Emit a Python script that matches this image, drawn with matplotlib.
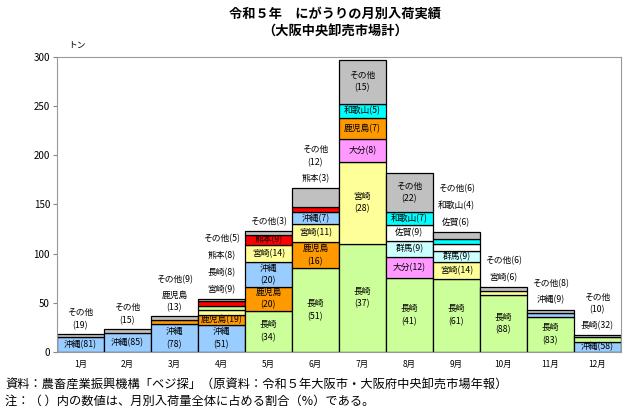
import matplotlib.pyplot as plt
import numpy as np

plt.rcParams['font.family'] = ['Noto Sans CJK JP', 'DejaVu Sans']

# 月
months = ['1月', '2月', '3月', '4月', '5月', '6月', '7月', '8月', '9月', '10月', '11月', '12月']

# 入荷量（トン）- 図から読み取り
okinawa   = [14.6, 19.5, 28.0, 27.5, 24.6, 11.7, 0, 0, 0, 0, 3.9, 9.9]
nagasaki  = [0, 0, 0, 4.3, 41.8, 85.0, 110.0, 74.6, 74.4, 58.0, 35.7, 5.4]
kagoshima = [0, 0, 4.7, 10.3, 24.6, 26.7, 20.8, 0, 0, 0, 0, 0]
miyazaki  = [0, 0, 0, 4.9, 17.2, 18.4, 83.0, 0, 17.1, 4.0, 0, 0]
kumamoto  = [0, 0, 0, 4.3, 11.1, 5.0, 0, 0, 0, 0, 0, 0]
oita      = [0, 0, 0, 0, 0, 0, 23.8, 21.8, 0, 0, 0, 0]
gunma     = [0, 0, 0, 0, 0, 0, 0, 16.4, 11.0, 0, 0, 0]
saga      = [0, 0, 0, 0, 0, 0, 0, 16.4, 7.3, 0, 0, 0]
wakayama  = [0, 0, 0, 0, 0, 0, 14.9, 12.7, 4.9, 0, 0, 0]
sonota    = [3.4, 3.5, 3.3, 2.7, 3.7, 20.0, 44.6, 40.0, 7.3, 4.0, 3.4, 1.7]

# 割合（%）
okinawa_pct   = [81, 85, 78, 51, 20, 7, 0, 0, 0, 0, 9, 58]
nagasaki_pct  = [0, 0, 0, 8, 34, 51, 37, 41, 61, 88, 83, 32]
kagoshima_pct = [0, 0, 13, 19, 20, 16, 7, 0, 0, 0, 0, 0]
miyazaki_pct  = [0, 0, 0, 9, 14, 11, 28, 0, 14, 6, 0, 0]
kumamoto_pct  = [0, 0, 0, 8, 9, 3, 0, 0, 0, 0, 0, 0]
oita_pct      = [0, 0, 0, 0, 0, 0, 8, 12, 0, 0, 0, 0]
gunma_pct     = [0, 0, 0, 0, 0, 0, 0, 9, 9, 0, 0, 0]
saga_pct      = [0, 0, 0, 0, 0, 0, 0, 9, 6, 0, 0, 0]
wakayama_pct  = [0, 0, 0, 0, 0, 0, 5, 7, 4, 0, 0, 0]
sonota_pct    = [19, 15, 9, 5, 3, 12, 15, 22, 6, 6, 8, 10]

series = {
    '沖縄': (okinawa, okinawa_pct, '#99CCFF'),
    '長崎': (nagasaki, nagasaki_pct, '#CCFF99'),
    '鹿児島': (kagoshima, kagoshima_pct, '#FF9900'),
    '宮崎': (miyazaki, miyazaki_pct, '#FFFF99'),
    '熊本': (kumamoto, kumamoto_pct, '#FF0000'),
    '大分': (oita, oita_pct, '#FF99FF'),
    '群馬': (gunma, gunma_pct, '#CCFFFF'),
    '佐賀': (saga, saga_pct, '#FFFFFF'),
    '和歌山': (wakayama, wakayama_pct, '#00FFFF'),
    'その他': (sonota, sonota_pct, '#C0C0C0'),
}

# 月ごとの積み上げ順（下から）
stack_order = [
    ['沖縄', 'その他'],
    ['沖縄', 'その他'],
    ['沖縄', '鹿児島', 'その他'],
    ['沖縄', '鹿児島', '宮崎', '長崎', '熊本', 'その他'],
    ['長崎', '鹿児島', '沖縄', '宮崎', '熊本', 'その他'],
    ['長崎', '鹿児島', '宮崎', '沖縄', '熊本', 'その他'],
    ['長崎', '宮崎', '大分', '鹿児島', '和歌山', 'その他'],
    ['長崎', '大分', '群馬', '佐賀', '和歌山', 'その他'],
    ['長崎', '宮崎', '群馬', '佐賀', '和歌山', 'その他'],
    ['長崎', '宮崎', 'その他'],
    ['長崎', '沖縄', 'その他'],
    ['沖縄', '長崎', 'その他'],
]

# ラベルの出し方: in1=中に1行, in2=中に2行, out1=上に1行, out2=上に2行
label_mode = [
    {'沖縄': 'in1', 'その他': 'out2'},
    {'沖縄': 'in1', 'その他': 'out2'},
    {'沖縄': 'in2', '鹿児島': 'out2', 'その他': 'out1'},
    {'沖縄': 'in2', '鹿児島': 'in1', '宮崎': 'out1', '長崎': 'out1', '熊本': 'out1', 'その他': 'out1'},
    {'長崎': 'in2', '鹿児島': 'in2', '沖縄': 'in2', '宮崎': 'in1', '熊本': 'in1', 'その他': 'out1'},
    {'長崎': 'in2', '鹿児島': 'in2', '宮崎': 'in1', '沖縄': 'in1', '熊本': 'out1', 'その他': 'out2'},
    {'長崎': 'in2', '宮崎': 'in2', '大分': 'in1', '鹿児島': 'in1', '和歌山': 'in1', 'その他': 'in2'},
    {'長崎': 'in2', '大分': 'in1', '群馬': 'in1', '佐賀': 'in1', '和歌山': 'in1', 'その他': 'in2'},
    {'長崎': 'in2', '宮崎': 'in1', '群馬': 'in1', '佐賀': 'out1', '和歌山': 'out1', 'その他': 'out1'},
    {'長崎': 'in2', '宮崎': 'out1', 'その他': 'out1'},
    {'長崎': 'in2', '沖縄': 'out1', 'その他': 'out1'},
    {'沖縄': 'in1', '長崎': 'out1', 'その他': 'out2'},
]

fig = plt.figure(figsize=(6.4, 4.12), dpi=100)
ax = fig.add_axes([0.089, 0.146, 0.881, 0.716])

fs = 6.3
x = np.arange(len(months))
for i in range(len(months)):
    bottom = 0
    outs = []
    for name in stack_order[i]:
        vals, pcts, col = series[name]
        v = vals[i]
        ax.bar(x[i], v, width=1.0, bottom=bottom, color=col, edgecolor='black', linewidth=0.9)
        mode = label_mode[i].get(name)
        if mode == 'in1':
            ax.text(x[i], bottom + v / 2, f'{name}({pcts[i]})', ha='center', va='center', fontsize=fs)
        elif mode == 'in2':
            ax.text(x[i], bottom + v / 2, f'{name}\n({pcts[i]})', ha='center', va='center',
                    fontsize=fs, linespacing=1.5)
        elif mode == 'out1':
            outs.append((f'{name}({pcts[i]})', 1))
        elif mode == 'out2':
            outs.append((f'{name}\n({pcts[i]})', 2))
        bottom += v
    # 棒の上にラベルを積む（ピクセル→ポイント換算）
    cursor = 3.0
    for txt, nl in outs:
        h = 13.0 if nl == 1 else 24.0
        center = cursor + h / 2
        ax.annotate(txt, (x[i], bottom), xytext=(0, center * 72 / 100), textcoords='offset points',
                    ha='center', va='center', fontsize=fs, linespacing=1.5)
        cursor += h + 3.7

ax.set_xlim(-0.5, 11.5)
ax.set_ylim(0, 300)
ax.set_yticks(np.arange(0, 301, 50))
ax.set_xticks(x)
ax.set_xticklabels(months, fontsize=6)
ax.tick_params(axis='x', length=0, pad=6)
ax.tick_params(axis='y', labelsize=7, length=3, color='#888888', pad=2)
for s in ax.spines.values():
    s.set_color('#999999')
    s.set_linewidth(0.8)

fig.text(68 / 640, 1 - 45 / 412, 'トン', fontsize=6.3, ha='left', va='center')
fig.text(335 / 640, 1 - 14 / 412, '令和５年　にがうりの月別入荷実績', fontsize=9.5,
         ha='center', va='center', fontweight='bold')
fig.text(335 / 640, 1 - 32 / 412, '（大阪中央卸売市場計）', fontsize=9.5,
         ha='center', va='center', fontweight='bold')
fig.text(5 / 640, 1 - 385 / 412, '資料：農畜産業振興機構「ベジ探」（原資料：令和５年大阪市・大阪府中央卸売市場年報）',
         fontsize=8.8, ha='left', va='center')
fig.text(5 / 640, 1 - 401 / 412, '注：（ ）内の数値は、月別入荷量全体に占める割合（%）である。',
         fontsize=8.8, ha='left', va='center')

fig.savefig('out.png', dpi=100)
